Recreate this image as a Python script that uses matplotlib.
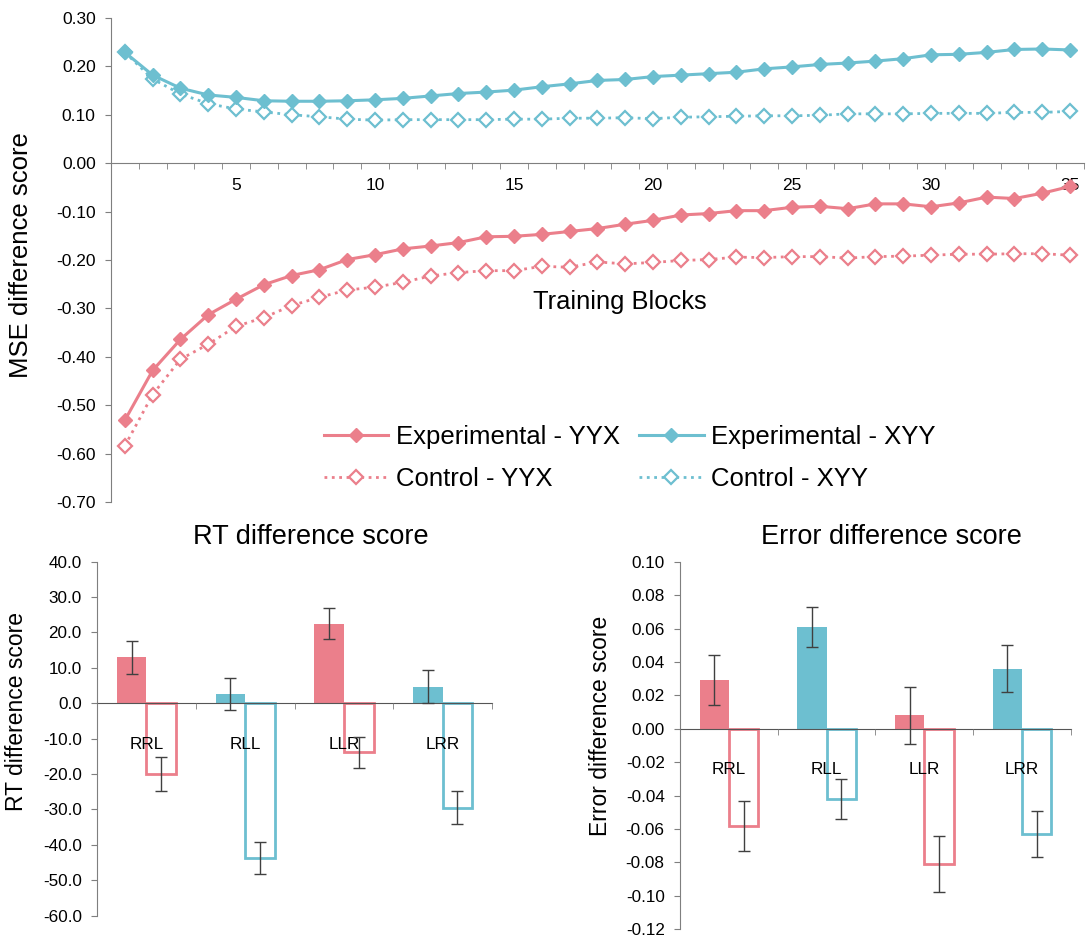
# MSE learning curves plus RT / error difference-score bar panels

import numpy as np
import matplotlib.pyplot as plt

plt.rcParams['font.family'] = ['Liberation Sans', 'DejaVu Sans']
plt.rcParams['axes.unicode_minus'] = False

red = '#EB7F8B'
cyan = '#6DBFD0'
axis_grey = '#7f7f7f'
err_grey = '#404040'

# MSE difference score per training block
blocks = np.arange(1, 36)
exp_yyx = [-0.531, -0.428, -0.364, -0.313, -0.281, -0.251, -0.232, -0.220, -0.199, -0.189,
           -0.177, -0.171, -0.164, -0.152, -0.151, -0.147, -0.141, -0.135, -0.126, -0.118,
           -0.107, -0.104, -0.098, -0.098, -0.091, -0.089, -0.094, -0.084, -0.084, -0.090,
           -0.082, -0.070, -0.073, -0.062, -0.048]
ctrl_yyx = [-0.584, -0.478, -0.405, -0.374, -0.337, -0.319, -0.294, -0.277, -0.262, -0.256,
            -0.246, -0.233, -0.226, -0.222, -0.222, -0.213, -0.215, -0.204, -0.208, -0.205,
            -0.201, -0.199, -0.194, -0.195, -0.193, -0.193, -0.196, -0.193, -0.192, -0.190,
            -0.188, -0.188, -0.187, -0.187, -0.190]
exp_xyy = [0.229, 0.182, 0.155, 0.141, 0.136, 0.129, 0.128, 0.128, 0.129, 0.131,
           0.134, 0.139, 0.144, 0.147, 0.151, 0.158, 0.164, 0.171, 0.173, 0.179,
           0.182, 0.185, 0.188, 0.195, 0.199, 0.204, 0.207, 0.211, 0.216, 0.224,
           0.225, 0.229, 0.235, 0.236, 0.234]
ctrl_xyy = [0.229, 0.174, 0.143, 0.123, 0.112, 0.106, 0.100, 0.096, 0.091, 0.089,
            0.090, 0.090, 0.090, 0.090, 0.091, 0.091, 0.093, 0.093, 0.094, 0.092,
            0.095, 0.096, 0.097, 0.098, 0.098, 0.099, 0.102, 0.102, 0.102, 0.103,
            0.103, 0.103, 0.105, 0.105, 0.107]

# difference scores per condition
conditions = ['RRL', 'RLL', 'LLR', 'LRR']
rt_exp = [13.0, 2.5, 22.5, 4.7]
rt_exp_err = [4.7, 4.5, 4.45, 4.6]
rt_ctrl = [-20.0, -43.7, -13.9, -29.5]
rt_ctrl_err = [4.75, 4.45, 4.5, 4.6]
err_exp = [0.029, 0.061, 0.008, 0.036]
err_exp_err = [0.015, 0.012, 0.017, 0.014]
err_ctrl = [-0.058, -0.042, -0.081, -0.063]
err_ctrl_err = [0.015, 0.012, 0.017, 0.014]
bar_colors = [red, cyan, red, cyan]

fig = plt.figure(figsize=(10.89, 9.38), dpi=100)

# ---- top: learning curves ----
ax = fig.add_axes([0.1019, 0.4648, 0.8935, 0.516])
ax.plot(blocks, ctrl_yyx, ':', color=red, lw=2, marker='D', ms=7,
        mfc='white', mec=red, mew=1.6, label='Control - YYX')
ax.plot(blocks, ctrl_xyy, ':', color=cyan, lw=2, marker='D', ms=7,
        mfc='white', mec=cyan, mew=1.6, label='Control - XYY')
ax.plot(blocks, exp_yyx, '-', color=red, lw=2.2, marker='D', ms=7.5,
        mfc=red, mec=red, label='Experimental - YYX')
ax.plot(blocks, exp_xyy, '-', color=cyan, lw=2.2, marker='D', ms=7.5,
        mfc=cyan, mec=cyan, label='Experimental - XYY')

ax.set_xlim(0.5, 35.5)
ax.set_ylim(-0.70, 0.30)
yt = [round(-0.7 + 0.1 * i, 2) + 0.0 for i in range(11)]
ax.set_yticks(yt)
ax.set_yticklabels(['%.2f' % v for v in yt])
ax.set_xticks([5, 10, 15, 20, 25, 30, 35])
ax.set_xticks(np.arange(0.5, 36, 1), minor=True)
ax.tick_params(axis='x', which='major', length=0, pad=11, labelsize=12.5)
ax.tick_params(axis='x', which='minor', length=4, direction='out', color=axis_grey)
ax.tick_params(axis='y', length=4, direction='out', color=axis_grey, pad=7, labelsize=12.5)
for s in ['top', 'right']:
    ax.spines[s].set_visible(False)
ax.spines['bottom'].set_position(('data', 0))
ax.spines['bottom'].set_color(axis_grey)
ax.spines['left'].set_color(axis_grey)
ax.set_ylabel('MSE difference score', fontsize=18.5)
ax.yaxis.set_label_coords(-0.080, 0.51)
ax.text(0.523, 0.413, 'Training Blocks', transform=ax.transAxes,
        ha='center', va='center', fontsize=18.4)

h, l = ax.get_legend_handles_labels()
order = [2, 0, 3, 1]
ax.legend([h[i] for i in order], [l[i] for i in order], ncol=2, frameon=False,
          loc='center', bbox_to_anchor=(0.5785, 0.5122), bbox_transform=fig.transFigure,
          fontsize=18.5, handlelength=2.5, handletextpad=0.3, columnspacing=0.75,
          labelspacing=0.7)


def bar_panel(ax, exp, exp_err, ctrl, ctrl_err, ylim, yticks, fmt, title, ylabel, ylab_y):
    x = np.arange(len(conditions))
    ekw = dict(ecolor=err_grey, elinewidth=1, capsize=4, capthick=1, zorder=4)
    ax.bar(x - 0.15, exp, 0.3, color=bar_colors, yerr=exp_err, error_kw=ekw, zorder=2)
    ax.bar(x + 0.15, ctrl, 0.3, facecolor='none', edgecolor=bar_colors, linewidth=2,
           yerr=ctrl_err, error_kw=ekw, zorder=2)
    ax.set_axisbelow(False)
    ax.set_xlim(-0.5, len(conditions) - 0.5)
    ax.set_ylim(*ylim)
    ax.set_yticks(yticks)
    ax.set_yticklabels([fmt % (round(v, 3) + 0.0) for v in yticks])
    ax.set_xticks(x)
    ax.set_xticklabels(conditions)
    ax.set_xticks(np.arange(-0.5, len(conditions), 1), minor=True)
    ax.tick_params(axis='x', which='major', length=0, pad=24, labelsize=12.3)
    ax.tick_params(axis='x', which='minor', length=4, direction='out', color=axis_grey)
    ax.tick_params(axis='y', length=4, direction='out', color=axis_grey, pad=7, labelsize=12.3)
    for s in ['top', 'right']:
        ax.spines[s].set_visible(False)
    ax.spines['bottom'].set_position(('data', 0))
    ax.spines['bottom'].set_color('#555555')
    ax.spines['left'].set_color(axis_grey)
    ax.set_title(title, fontsize=19.5, x=0.54, pad=13)
    ax.set_ylabel(ylabel, fontsize=16.5)
    ax.yaxis.set_label_coords(-0.175, ylab_y)


ax_rt = fig.add_axes([0.0891, 0.0238, 0.3627, 0.3774])
bar_panel(ax_rt, rt_exp, rt_exp_err, rt_ctrl, rt_ctrl_err, (-60, 40),
          np.arange(-60, 41, 10), '%.1f', 'RT difference score', 'RT difference score', 0.576)

ax_err = fig.add_axes([0.6244, 0.0096, 0.359, 0.3913])
bar_panel(ax_err, err_exp, err_exp_err, err_ctrl, err_ctrl_err, (-0.12, 0.10),
          np.linspace(-0.12, 0.10, 12), '%.2f', 'Error difference score',
          'Error difference score', 0.553)

fig.savefig('out.png', dpi=100)
